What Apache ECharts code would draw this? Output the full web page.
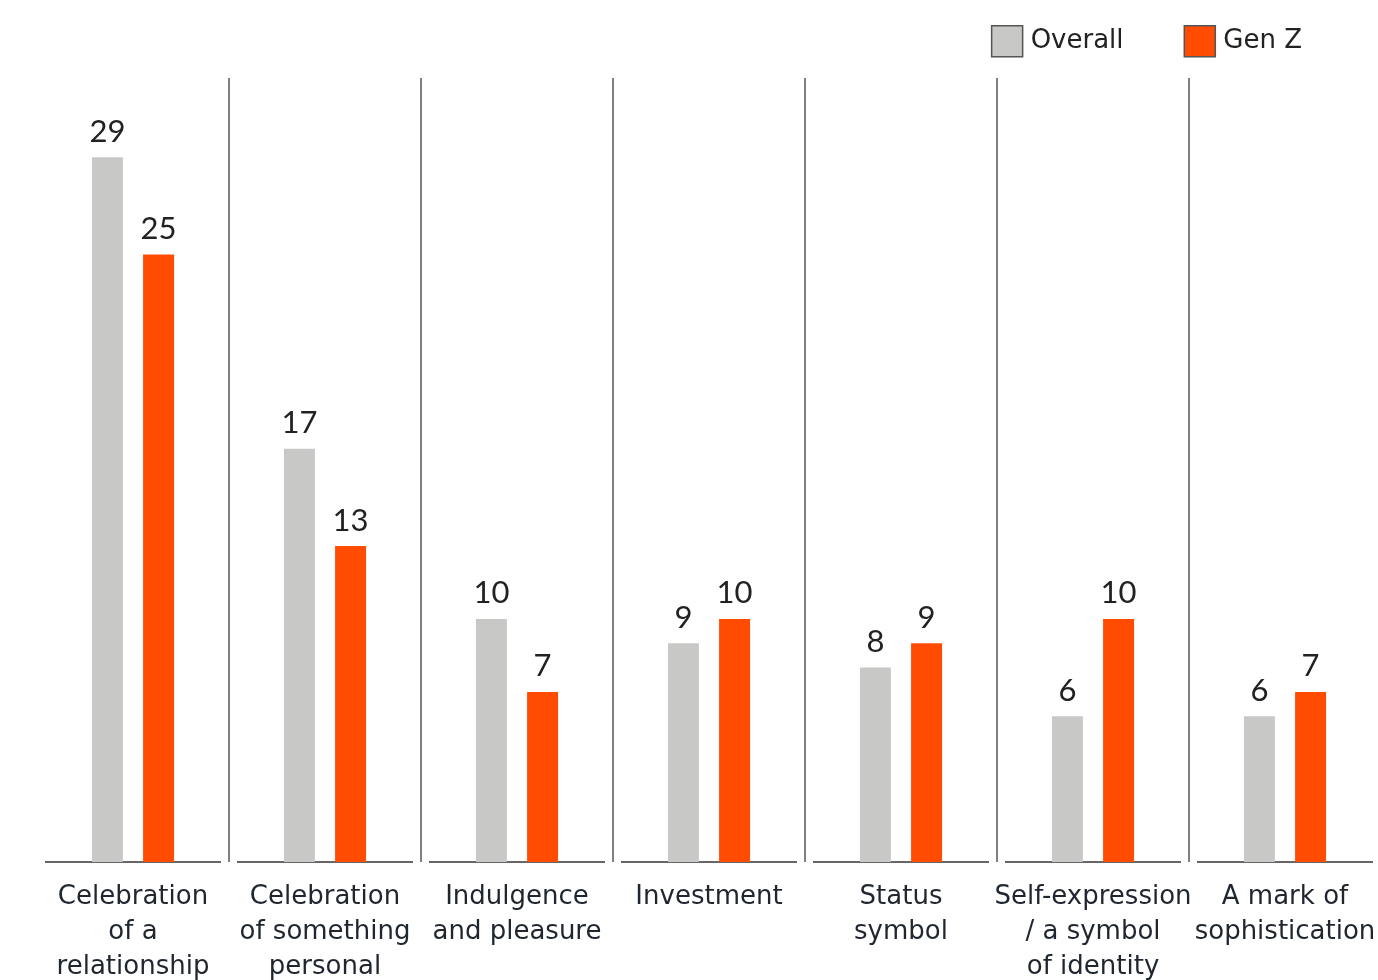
<!DOCTYPE html>
<html>
<head>
<meta charset="utf-8">
<script src="https://cdn.jsdelivr.net/npm/echarts@6/dist/echarts.min.js"></script>
<style>html,body{margin:0;padding:0;background:#fff}#c{width:1378px;height:980px}</style>
</head>
<body>
<div id="c"></div>
<script>
var categories = ["Celebration\nof a\nrelationship", "Celebration\nof something\npersonal", "Indulgence\nand pleasure", "Investment", "Status\nsymbol", "Self-expression\n/ a symbol\nof identity", "A mark of\nsophistication"];
var overall = [29, 17, 10, 9, 8, 6, 6];
var genZ = [25, 13, 7, 10, 9, 10, 7];
var seriesNames = ["Overall", "Gen Z"];

var TFONT = "DejaVu Sans";
var NFONT = "Lato";
var chart = echarts.init(document.getElementById('c'));
chart.setOption({
  animation: false,
  backgroundColor: '#fff',
  legend: {
    data: seriesNames,
    right: 71, top: 20,
    itemWidth: 31, itemHeight: 31, itemGap: 60,
    icon: 'rect',
    itemStyle: { borderColor: '#555', borderWidth: 1.5 },
    textStyle: { fontFamily: TFONT, fontSize: 26, color: '#222', padding: [0, 0, 0, 3] }
  },
  grid: { left: 37, top: 78, width: 1344, bottom: 118, containLabel: false, outerBoundsMode: 'none' },
  xAxis: {
    type: 'category',
    data: categories,
    axisLine: { show: false },
    axisTick: { show: false },
    splitLine: { show: false },
    axisLabel: {
      interval: 0, margin: 18,
      fontFamily: TFONT, fontSize: 26, color: '#1f2630',
      lineHeight: 35, align: 'center'
    }
  },
  yAxis: {
    type: 'value', min: 0, max: 32.26,
    show: false, splitLine: { show: false }
  },
  series: [
    {
      type: 'custom', silent: true, z: 1,
      data: categories.map(function (c, i) { return [i]; }),
      encode: { x: 0 },
      renderItem: function (params, api) {
        var i = api.value(0);
        var p = api.coord([i, 0]);
        var w = api.size([1, 0])[0];
        var top = params.coordSys.y;
        var children = [{
          type: 'line',
          shape: { x1: p[0] - w / 2 + 8, y1: p[1], x2: p[0] + w / 2 - 8, y2: p[1] },
          style: { stroke: '#333', lineWidth: 1.5 }
        }];
        if (i > 0) {
          children.push({
            type: 'line',
            shape: { x1: p[0] - w / 2, y1: top, x2: p[0] - w / 2, y2: p[1] },
            style: { stroke: '#555', lineWidth: 1.5 }
          });
        }
        return { type: 'group', children: children };
      }
    },
    {
      name: seriesNames[0], type: 'bar', data: overall, z: 2,
      barWidth: 31, barGap: '65%',
      itemStyle: { color: '#c8c9c6' },
      label: { show: true, position: 'top', distance: 10, fontFamily: NFONT, fontSize: 31, color: '#222' }
    },
    {
      name: seriesNames[1], type: 'bar', data: genZ, z: 2,
      barWidth: 31, barGap: '65%',
      itemStyle: { color: '#ff4c00' },
      label: { show: true, position: 'top', distance: 10, fontFamily: NFONT, fontSize: 31, color: '#222' }
    }
  ]
});
</script>
</body>
</html>
